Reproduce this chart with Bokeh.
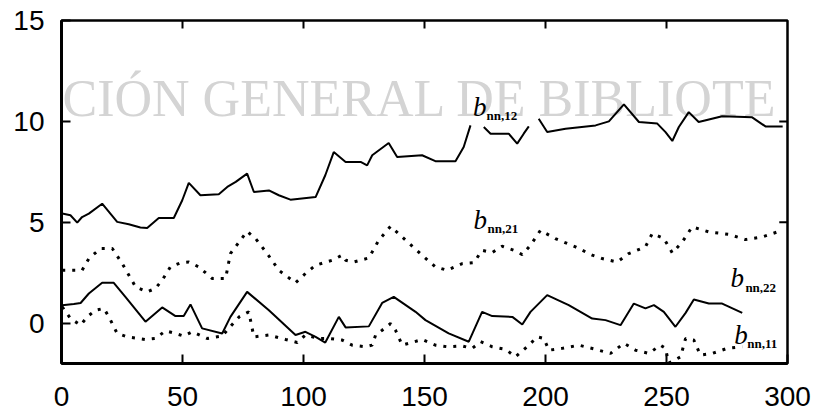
from bokeh.plotting import figure
from bokeh.models import Range1d, Label, FixedTicker
from bokeh.embed import file_html
from bokeh.resources import INLINE

nan = float("nan")

x_ticks = [0, 50, 100, 150, 200, 250, 300]
y_ticks = [0, 5, 10, 15]

# b_nn,12 (solid, upper)
b12_x = [0.3, 3.7, 6.5, 8.5, 11.3, 16.8, 23, 27.8, 32.6, 35.4,
         40.2, 46.4, 49.9, 52.6, 57.4, 65, 68.5, 72, 76.7, 79.5,
         85.7, 89.8, 94.6, 105, 109, 112.5, 117.4, 123.6, 126.3, 128.4,
         135.2, 138.7, 149, 154.5, 162.8, 166.2, 169, nan,
         174.5, 177.3, 184.8, 188.3, 191, 193.1, nan,
         197.2, 200.7, 208.3, 220.7, 226.2, 232.4, 238.6, 246.2, 249.6, 252.4,
         255.1, 259.2, 263.3, 273, 285.4, 290.9, 298]
b12_y = [5.43, 5.35, 4.98, 5.26, 5.43, 5.92, 5.02, 4.9, 4.74, 4.72,
         5.21, 5.21, 6.09, 6.95, 6.34, 6.39, 6.75, 7.0, 7.41, 6.5,
         6.58, 6.34, 6.12, 6.25, 7.33, 8.48, 7.99, 7.99, 7.82, 8.32,
         8.93, 8.23, 8.32, 8.03, 8.03, 8.73, 9.8, nan,
         9.72, 9.39, 9.39, 8.9, 9.39, 9.75, nan,
         10.13, 9.47, 9.64, 9.8, 10.0, 10.84, 9.97, 9.89, 9.47, 9.03,
         9.72, 10.46, 9.97, 10.25, 10.2, 9.75, 9.75]

# b_nn,21 (dotted, upper)
b21_x = [0.3, 8.5, 11.3, 16.1, 21, 25.1, 30.6, 35.4, 38.8, 41.6,
         45, 49.2, 52.6, 56.7, 62.3, 67.8, 69.8, 76.7, 80.2, 85,
         89.8, 96.7, 100.8, 105, 111.9, 116, 117.4, 120.8, 127, 131.1,
         136, 140.8, 149, 154.5, 159.4, 165.6, 170.4, 173.8, 178, 182.1,
         186.9, 190.4, 193.8, 197.9, 204.1, 212.4, 219.3, 223.4, 229.6, 234.4,
         241.3, 244.1, 248.9, 252.4, 256.5, 260.6, 267.5, 275.8, 282.6, 289.5,
         297.8]
b21_y = [2.62, 2.62, 3.2, 3.7, 3.7, 2.95, 1.8, 1.55, 1.72, 2.13,
         2.79, 2.99, 3.03, 2.79, 2.21, 2.21, 3.45, 4.55, 4.19, 3.45,
         2.62, 2.0, 2.46, 2.87, 3.12, 3.37, 3.12, 3.03, 3.23, 4.11,
         4.8, 4.27, 3.37, 2.79, 2.62, 2.95, 3.0, 3.61, 3.5, 3.81,
         3.61, 3.4, 3.86, 4.6, 4.19, 3.78, 3.37, 3.2, 3.03, 3.45,
         3.78, 4.44, 4.2, 3.48, 4.02, 4.77, 4.52, 4.4, 4.14, 4.27,
         4.6]

# b_nn,22 (solid, lower)
b22_x = [0.3, 5.1, 7.9, 11.3, 16.8, 21.6, 26.4, 34.7, 41.6, 47.1,
         50.5, 53.3, 58.1, 66.4, 69.8, 76.7, 85.7, 96.7, 100.8, 105,
         109, 114.6, 117.4, 127, 132.5, 137.3, 146.3, 150.4, 160, 168.3,
         173.8, 178, 186.3, 190.4, 193.8, 200.7, 209.6, 219.3, 224.8, 231,
         236.5, 241.3, 244.8, 248.9, 253.7, 257.9, 261.3, 267.5, 273, 281.3]
b22_y = [0.89, 0.95, 1.0, 1.47, 2.0, 2.0, 1.3, 0.07, 0.78, 0.35,
         0.35, 0.93, -0.26, -0.51, 0.31, 1.55, 0.64, -0.59, -0.43, -0.68,
         -0.96, 0.31, -0.21, -0.16, 1.0, 1.3, 0.56, 0.15, -0.51, -0.92,
         0.56, 0.35, 0.31, -0.07, 0.56, 1.39, 0.89, 0.23, 0.15, -0.1,
         0.97, 0.73, 0.89, 0.56, -0.18, 0.51, 1.17, 0.97, 0.97, 0.51]

# b_nn,11 (dotted, lower)
b11_x = [0.3, 3.7, 7.9, 10.6, 14, 17.5, 19.6, 23, 27.1, 34.7,
         38.8, 43, 47.1, 50.5, 54, 60.2, 66.4, 69.1, 73.4, 77.4,
         79.5, 85.7, 92.6, 97.4, 100.8, 106.3, 110.5, 116, 120.1, 125.6,
         128.4, 129.8, 132.5, 136, 138, 140.8, 143.5, 149, 154.5, 159.4,
         165.6, 169.7, 173.2, 178, 183.5, 187.6, 192.4, 196.6, 199.3, 201.4,
         206.9, 213.8, 220.7, 226.9, 232.4, 237.2, 242.7, 247.5, 249.6, 250.9,
         255.8, 257.9, 261.3, 264, 268.9, 275.1, 281.3]
b11_y = [0.81, 0.23, -0.1, 0.31, 0.64, 0.73, 0.31, -0.51, -0.68, -0.81,
         -0.76, -0.38, -0.51, -0.64, -0.43, -0.76, -0.64, -0.26, 0.31, 0.56,
         -0.68, -0.59, -0.81, -0.96, -0.59, -0.76, -0.76, -0.84, -1.09, -1.17,
         -1.09, -0.59, -0.35, -0.02, -0.35, -1.09, -1.0, -0.81, -1.09, -1.17,
         -1.13, -1.25, -0.92, -1.17, -1.3, -1.67, -1.17, -0.68, -0.76, -1.34,
         -1.25, -1.09, -1.3, -1.5, -1.0, -1.34, -1.5, -1.09, -1.25, -1.98,
         -1.67, -0.76, -0.84, -1.58, -1.5, -1.25, -1.17]

X0, X1, Y0, Y1 = 0, 300, -2, 15

p = figure(frame_width=726, frame_height=343,
           x_range=Range1d(X0, X1), y_range=Range1d(Y0, Y1),
           output_backend="svg", toolbar_location=None,
           min_border_left=61, min_border_right=36,
           min_border_top=20, min_border_bottom=50)
p.xgrid.visible = False
p.ygrid.visible = False
p.outline_line_color = "black"
p.outline_line_width = 2.5
p.outline_line_alpha = 1.0
p.background_fill_color = "white"
p.border_fill_color = "white"

for ax, ticks, standoff in ((p.xaxis[0], x_ticks, 23), (p.yaxis[0], y_ticks, 17)):
    ax.ticker = FixedTicker(ticks=ticks)
    ax.axis_line_width = 3
    ax.axis_line_color = "black"
    ax.major_tick_in = 9
    ax.major_tick_out = 0
    ax.major_tick_line_width = 2
    ax.minor_tick_line_color = None
    ax.major_label_text_font = "Liberation Sans"
    ax.major_label_text_font_size = "28px"
    ax.major_label_text_color = "black"
    ax.major_label_standoff = standoff

# inward ticks on the top and right frame edges (lengths in data units ~8px)
top_t = x_ticks[1:-1]
p.segment(x0=top_t, y0=[Y1] * len(top_t), x1=top_t,
          y1=[Y1 - 0.4] * len(top_t), line_color="black", line_width=2)
right_t = y_ticks[1:-1]
p.segment(x0=[X1] * len(right_t), y0=right_t, x1=[X1 - 3.4] * len(right_t),
          y1=right_t, line_color="black", line_width=2)

# scan watermark (the part that falls inside the frame)
p.add_layout(Label(x=0.4, y=11.14, text="CIÓN GENERAL DE BIBLIOTE",
                   text_font="Liberation Serif", text_font_size="52px",
                   text_color="#d4d4d4", text_baseline="alphabetic",
                   level="underlay"))

p.line(b12_x, b12_y, line_color="black", line_width=2)
p.line(b22_x, b22_y, line_color="black", line_width=2)
p.line(b21_x, b21_y, line_color="black", line_width=3, line_dash="3 7")
p.line(b11_x, b11_y, line_color="black", line_width=3, line_dash="3 7")

def add_name(xb, yb, xs, ys, sub):
    p.add_layout(Label(x=xb, y=yb, text="b", text_font="Liberation Serif",
                       text_font_style="italic", text_font_size="27px",
                       text_color="black", text_baseline="alphabetic"))
    p.add_layout(Label(x=xs, y=ys, text=sub, text_font="Liberation Serif",
                       text_font_style="bold", text_font_size="13px",
                       text_color="black", text_baseline="alphabetic"))

add_name(170.0, 10.69, 175.6, 10.3, "nn,12")
add_name(170.2, 5.1, 176.0, 4.70, "nn,21")
add_name(276.4, 2.23, 282.6, 1.78, "nn,22")
add_name(278.0, -0.59, 283.4, -0.99, "nn,11")

open("out.html", "w").write(file_html(p, INLINE))
